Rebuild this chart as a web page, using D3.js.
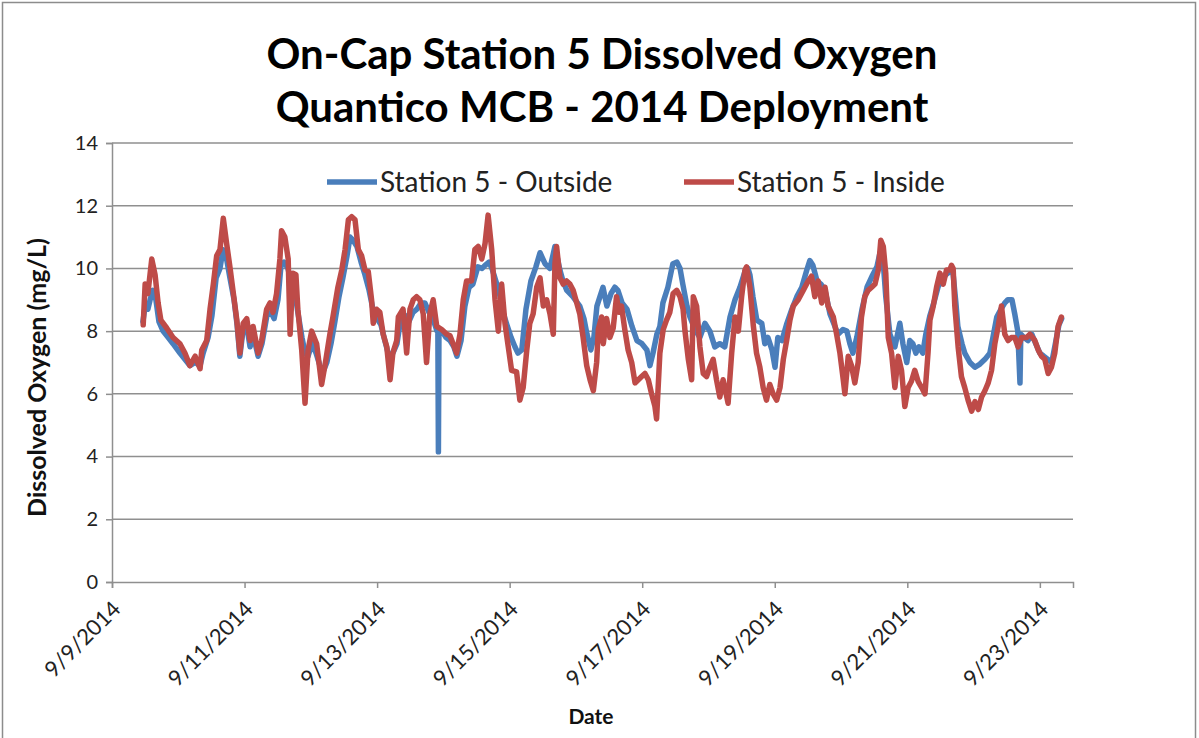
<!DOCTYPE html>
<html>
<head>
<meta charset="utf-8">
<script src="https://cdnjs.cloudflare.com/ajax/libs/d3/7.8.5/d3.min.js"></script>
<style>
  body { margin: 0; background: #fff; }
  svg { display: block; }
  text { font-family: Lato, "Noto Sans", sans-serif; }
</style>
</head>
<body>
<svg id="chart" width="1199" height="738"></svg>
<script>
// Logger readings: hours elapsed since 9/9/2014 00:00 and dissolved oxygen (mg/L)
const deploymentStart = new Date(2014, 8, 9, 0, 0);

const outsideHours = [11.2,12.0,13.0,13.8,14.8,15.9,17.0,18.5,20.3,22.1,24.6,26.4,28.2,30.1,31.9,33.0,34.8,36.2,37.7,39.1,40.2,41.3,42.7,44.2,45.3,46.3,47.4,48.9,50.0,51.1,52.9,54.3,56.1,57.6,58.7,60.1,61.2,62.3,63.7,64.8,66.3,67.3,68.8,69.9,71.0,72.4,73.9,75.3,76.4,77.8,79.3,80.7,82.2,83.6,85.1,86.2,87.3,88.7,90.2,91.6,93.1,94.5,96.0,97.4,98.8,100.3,101.7,103.2,104.6,106.1,107.5,109.0,110.4,111.9,113.3,114.8,116.2,117.7,118.0,118.2,118.4,119.5,120.9,122.4,123.8,124.9,126.4,127.8,129.3,130.7,132.5,134.0,135.1,136.5,137.6,139.0,140.1,141.6,143.0,144.5,145.9,147.0,148.4,149.9,151.7,153.5,155.0,156.8,158.6,160.4,162.2,163.3,164.7,166.9,169.4,170.9,172.0,173.4,174.5,175.6,176.7,177.8,179.2,180.7,182.1,183.2,184.7,186.5,188.3,190.1,191.9,193.7,194.8,195.9,197.3,198.4,199.5,201.3,203.1,204.6,205.7,206.7,208.2,209.3,211.1,212.9,214.7,216.5,218.3,220.1,221.9,223.8,225.6,227.4,229.2,230.3,231.0,232.1,233.5,235.3,236.4,237.5,239.0,240.1,241.1,242.6,244.4,246.2,248.0,249.8,251.6,252.7,253.8,255.3,256.7,258.2,260.0,261.8,262.9,264.7,266.1,267.2,268.3,269.7,271.6,273.4,275.2,277.0,278.1,279.2,280.2,281.7,283.5,285.3,286.4,287.8,288.9,290.0,291.1,292.2,293.6,294.7,296.2,297.6,299.1,300.5,302.0,303.4,304.5,305.6,306.3,307.8,308.8,310.7,312.5,314.3,316.1,317.9,319.0,320.4,321.9,323.3,324.4,325.9,326.9,328.0,328.8,329.1,330.2,331.7,333.1,334.5,336.0,337.4,338.9,340.3,341.4,342.9,343.9];
const outsideDO = [8.3,8.8,8.7,9.0,9.3,9.0,8.3,8.0,7.8,7.6,7.3,7.1,6.9,7.0,6.9,7.3,7.8,8.5,9.7,10.0,10.6,10.4,9.7,9.0,8.2,7.2,8.0,8.1,7.5,7.9,7.2,7.6,8.5,8.6,8.4,9.0,10.1,10.2,10.0,9.6,9.2,8.6,7.8,7.3,7.2,7.6,7.3,6.9,6.7,7.0,7.6,8.3,9.1,9.7,10.4,11.0,10.9,10.7,10.2,9.8,9.3,8.7,8.4,8.2,7.7,7.2,7.3,7.6,8.4,8.5,8.3,8.6,8.7,8.9,8.9,8.6,8.4,8.0,8.0,4.15,8.0,8.0,7.8,7.7,7.5,7.2,7.7,8.8,9.4,9.5,10.05,10.0,10.1,10.2,10.0,9.6,9.3,8.6,8.2,7.8,7.5,7.3,7.4,8.7,9.6,10.05,10.5,10.15,10.0,10.7,9.95,9.6,9.3,9.1,8.8,8.4,7.9,7.4,7.8,8.8,9.1,9.4,8.8,9.2,9.4,9.3,8.9,8.7,8.15,7.7,7.6,7.4,6.9,7.3,7.9,8.15,8.9,9.4,10.15,10.2,10.0,9.5,8.8,8.45,8.05,7.8,8.25,8.0,7.5,7.6,7.5,8.45,9.0,9.4,9.9,10.0,9.8,9.1,8.35,8.25,7.6,7.8,7.4,6.85,7.8,7.7,8.25,8.7,9.1,9.4,9.95,10.25,10.1,9.6,9.5,9.3,8.55,8.15,7.9,8.05,8.0,7.6,7.3,7.8,8.7,9.4,9.75,10.05,10.5,10.3,9.1,7.9,7.5,8.25,7.6,7.0,7.7,7.6,7.3,7.5,7.3,7.9,8.5,8.9,9.4,9.7,9.8,9.9,9.9,8.9,8.15,7.6,7.3,7.0,6.85,6.95,7.1,7.3,7.8,8.45,8.7,8.9,9.0,9.0,8.55,8.0,6.35,7.9,7.8,7.7,7.9,7.6,7.3,7.2,7.1,7.0,7.5,8.2,8.4];

const insideHours = [11.3,12.0,13.0,14.4,15.6,16.7,17.7,19.8,22.1,24.6,26.4,28.2,30.1,31.9,32.5,34.3,35.5,36.7,37.9,39.1,40.3,41.5,42.7,43.8,45.2,46.3,47.5,48.8,50.0,51.1,52.9,54.2,56.0,57.2,58.3,59.6,60.8,61.4,62.6,63.8,64.5,65.5,66.6,67.3,68.7,69.9,71.0,72.3,74.1,75.9,77.1,78.9,80.0,81.8,83.2,84.4,85.6,86.8,88.0,89.2,90.4,91.6,92.8,94.0,94.6,95.8,97.0,98.2,99.5,100.7,101.7,103.1,103.7,105.4,106.7,107.9,109.1,110.3,111.5,112.7,113.9,115.1,116.3,117.6,119.4,121.2,122.4,124.8,126.0,127.2,128.4,130.2,131.4,132.6,133.9,135.1,136.2,137.5,138.7,139.9,141.1,142.3,143.5,144.7,146.5,147.7,148.9,150.2,151.3,152.5,153.8,155.0,156.2,157.4,158.6,159.8,160.4,161.0,162.2,163.4,164.6,165.8,167.0,168.3,169.4,170.6,171.9,173.1,174.3,175.5,176.1,177.3,177.9,179.1,180.3,181.5,182.7,183.6,184.5,185.7,186.9,188.2,189.4,190.6,191.8,193.0,194.2,195.4,196.6,197.2,198.4,199.6,200.8,202.0,203.2,204.5,205.7,206.8,207.5,208.7,209.9,210.5,211.7,212.9,214.1,215.3,216.5,217.7,218.9,220.1,221.3,223.1,224.4,225.6,226.8,228.0,229.2,229.8,231.0,232.2,233.4,234.6,235.8,237.0,238.2,239.4,240.7,241.9,243.1,244.3,245.5,246.7,248.5,250.3,252.1,253.3,254.5,255.7,257.0,258.2,259.3,261.2,262.4,263.6,264.8,265.4,266.6,267.8,269.0,270.2,271.4,272.6,273.8,275.1,276.3,277.5,278.4,279.3,280.2,281.1,282.3,283.5,284.7,285.9,287.1,288.3,289.5,290.7,291.9,293.2,294.4,295.5,296.2,297.4,298.6,299.8,301.0,302.2,303.4,304.0,304.6,305.2,306.4,307.6,308.8,310.0,311.3,312.5,313.7,314.9,316.1,317.3,318.5,319.7,320.9,322.1,323.3,324.5,325.7,326.9,328.1,329.4,331.2,332.4,334.2,335.4,336.6,337.8,339.0,340.2,341.4,342.6,343.8];
const insideDO = [8.2,9.5,9.2,10.3,9.8,8.9,8.35,8.1,7.8,7.6,7.3,6.9,7.2,6.8,7.4,7.7,8.7,9.5,10.4,10.6,11.6,10.8,10.05,9.3,8.35,7.3,8.25,8.4,7.7,8.15,7.3,7.7,8.7,8.9,8.6,9.2,10.3,11.2,11.0,10.3,7.9,9.85,9.8,8.7,7.4,5.7,7.4,8.0,7.6,6.3,6.9,7.9,8.45,9.4,9.95,10.6,11.55,11.65,11.55,10.6,10.4,9.95,9.9,9.0,8.25,8.7,8.6,7.9,7.5,6.45,7.3,7.7,8.45,8.7,7.3,8.7,9.0,9.1,9.0,8.55,7.0,8.55,9.0,8.15,8.05,7.9,7.85,7.3,7.9,9.0,9.6,9.6,10.6,10.7,10.3,10.8,11.7,10.6,9.0,8.0,9.5,8.25,7.5,6.75,6.7,5.8,6.2,7.4,8.25,8.55,9.4,9.7,8.8,9.0,8.55,7.9,10.15,10.7,9.7,9.5,9.6,9.5,9.3,8.9,8.55,7.8,6.9,6.45,6.1,7.0,8.05,8.45,7.6,8.4,7.8,8.1,9.1,8.6,8.8,8.05,7.4,7.0,6.35,6.45,6.55,6.65,6.45,6.0,5.6,5.2,7.3,8.05,8.35,8.6,9.2,9.3,9.1,8.7,8.0,7.1,6.45,9.1,8.8,7.5,6.65,6.55,6.85,7.1,6.45,5.9,6.45,5.7,7.3,8.45,8.0,9.1,9.95,10.05,9.4,8.2,7.3,6.85,6.2,5.8,6.3,6.0,5.8,6.2,7.1,7.7,8.35,8.8,9.0,9.3,9.6,9.75,9.1,9.6,8.9,9.4,8.8,8.45,7.9,7.3,6.45,6.0,7.2,6.9,6.35,7.0,8.45,9.1,9.3,9.4,9.5,9.95,10.9,10.7,9.85,7.8,7.3,6.2,7.2,6.75,5.6,6.2,6.4,6.75,6.4,6.2,6.0,7.3,8.35,8.8,9.4,9.85,9.5,9.95,9.95,10.1,10.0,8.8,7.5,6.55,6.2,5.8,5.45,5.75,5.5,5.9,6.1,6.35,6.75,7.6,8.15,8.8,7.9,7.7,7.8,7.8,7.5,7.8,7.8,7.9,7.7,7.4,7.2,7.1,6.65,6.85,7.3,8.15,8.45];

const yTicks = [0, 2, 4, 6, 8, 10, 12, 14];
const xTickLabels = ["9/9/2014", "9/11/2014", "9/13/2014", "9/15/2014", "9/17/2014", "9/19/2014", "9/21/2014", "9/23/2014"];
const axisEnd = "9/23/2014 12:00";

const seriesNames = ["Station 5 - Outside", "Station 5 - Inside"];
const seriesColors = ["#4a7ebb", "#be4b48"];

const titleLines = ["On-Cap Station 5 Dissolved Oxygen", "Quantico MCB - 2014 Deployment"];
const yAxisTitle = "Dissolved Oxygen (mg/L)";
const xAxisTitle = "Date";

// ---------------------------------------------------------------
const svg = d3.select("#chart");
const plot = { left: 112, right: 1073, top: 143, bottom: 582 };

const parseDay = d3.timeParse("%m/%d/%Y");
const parseDayTime = d3.timeParse("%m/%d/%Y %H:%M");
const toDate = h => new Date(deploymentStart.getTime() + h * 3600 * 1000);

const x = d3.scaleTime()
  .domain([parseDay(xTickLabels[0]), parseDayTime(axisEnd)])
  .range([plot.left, plot.right]);
const y = d3.scaleLinear().domain([0, 14]).range([plot.bottom, plot.top]);

// outer chart frame
svg.append("rect")
  .attr("x", 2.5).attr("y", 2.5)
  .attr("width", 1193).attr("height", 760)
  .attr("fill", "#fff").attr("stroke", "#8c8c8c").attr("stroke-width", 1.5);

// title
svg.append("g").selectAll("text").data(titleLines).join("text")
  .attr("x", 602).attr("y", (d, i) => 69 + i * 53)
  .attr("text-anchor", "middle")
  .attr("font-size", 42).attr("font-weight", 700).attr("fill", "#000")
  .text(d => d);

// horizontal gridlines
svg.append("g").selectAll("line").data(yTicks.filter(v => v > 0)).join("line")
  .attr("x1", plot.left).attr("x2", plot.right)
  .attr("y1", d => y(d)).attr("y2", d => y(d))
  .attr("stroke", "#8f8f8f").attr("stroke-width", 1.5);

// y axis
const yAxis = svg.append("g")
  .attr("transform", `translate(${plot.left},0)`)
  .call(d3.axisLeft(y).tickValues(yTicks).tickSize(6).tickPadding(8).tickFormat(d3.format("d")));
yAxis.selectAll("path, line").attr("stroke", "#8f8f8f").attr("stroke-width", 1.5);
yAxis.selectAll("text").attr("font-size", 20).attr("fill", "#222").attr("font-family", "Lato, sans-serif");

// x axis
const xAxis = svg.append("g")
  .attr("transform", `translate(0,${plot.bottom})`)
  .call(d3.axisBottom(x).tickValues(xTickLabels.map(parseDay)).tickSize(6)
    .tickFormat((d, i) => xTickLabels[i]));
xAxis.select(".domain").attr("stroke", "#8f8f8f").attr("stroke-width", 1.5);
xAxis.selectAll(".tick line").attr("stroke", "#8f8f8f").attr("stroke-width", 1.5);
xAxis.selectAll(".tick text")
  .attr("font-size", 22).attr("fill", "#222").attr("font-family", "Lato, sans-serif")
  .attr("text-anchor", "end")
  .attr("x", 0).attr("y", 0).attr("dy", "0.35em")
  .attr("transform", "translate(4,23) rotate(-45)");

// axis titles
svg.append("text")
  .attr("transform", `translate(46,${(plot.top + plot.bottom) / 2 + 15}) rotate(-90)`)
  .attr("text-anchor", "middle").attr("font-size", 25).attr("font-weight", 700)
  .attr("fill", "#111").text(yAxisTitle);
svg.append("text")
  .attr("x", 591).attr("y", 724).attr("text-anchor", "middle")
  .attr("font-size", 21).attr("font-weight", 700).attr("fill", "#111").text(xAxisTitle);

// series lines
const line = d3.line().x(d => x(d.t)).y(d => y(d.v));
const series = [
  outsideHours.map((h, i) => ({ t: toDate(h), v: outsideDO[i] })),
  insideHours.map((h, i) => ({ t: toDate(h), v: insideDO[i] }))
];
svg.append("g").selectAll("path").data(series).join("path")
  .attr("d", line)
  .attr("fill", "none")
  .attr("stroke", (d, i) => seriesColors[i])
  .attr("stroke-width", 5.5)
  .attr("stroke-linejoin", "round")
  .attr("stroke-linecap", "round");

// legend
const legendX = [327, 684];
const legend = svg.append("g").selectAll("g").data(seriesNames).join("g")
  .attr("transform", (d, i) => `translate(${legendX[i]},182)`);
legend.append("line")
  .attr("x1", 0).attr("x2", 50).attr("y1", 0).attr("y2", 0)
  .attr("stroke", (d, i) => seriesColors[i]).attr("stroke-width", 5.5);
legend.append("text")
  .attr("x", 53).attr("y", 0).attr("dy", "0.35em")
  .attr("font-size", 28).attr("fill", "#222")
  .text(d => d);
</script>
</body>
</html>
